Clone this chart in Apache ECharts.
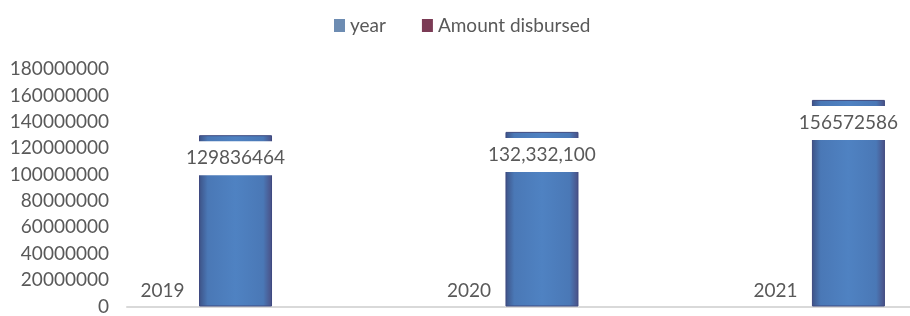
<!DOCTYPE html>
<html>
<head>
<meta charset="utf-8">
<script src="https://cdn.jsdelivr.net/npm/echarts@6/dist/echarts.min.js"></script>
<style>
  html, body { margin: 0; padding: 0; background: #fff; }
  #chart { width: 910px; height: 316px; }
</style>
</head>
<body>
<div id="chart"></div>
<script>
// data
var categories = ['2019', '2020', '2021'];
var yearValues = [2019, 2020, 2021];
var amountValues = [129836464, 132332100, 156572586];
var amountLabels = ['129836464', '132,332,100', '156572586'];
var yTicks = [0, 20000000, 40000000, 60000000, 80000000, 100000000, 120000000, 140000000, 160000000, 180000000];

(function () {
    var myChart = echarts.init(document.getElementById('chart'));
    var font = 'Lato';
    var textColor = '#595959';
    var yMin = yTicks[0];
    var yMax = yTicks[yTicks.length - 1];
    var yStep = yTicks[1] - yTicks[0];

    // categories sit at 0,1,2 on a value x axis, the view is cropped like the original
    var yearData = categories.map(function (c, i) { return [i, yearValues[i]]; });
    var amountData = categories.map(function (c, i) { return [i, amountValues[i]]; });

    var option = {
        animation: false,
        textStyle: { fontFamily: font },
        legend: {
            top: 11,
            left: 329,
            icon: 'rect',
            itemWidth: 11,
            itemHeight: 13,
            itemGap: 36,
            textStyle: { color: textColor, fontSize: 19, fontFamily: font },
            data: [
                { name: 'year', itemStyle: { color: '#6d8cb2', borderWidth: 0 } },
                { name: 'Amount disbursed', itemStyle: { color: '#7b3b55', borderWidth: 0 } }
            ]
        },
        grid: { left: 127, right: 0, top: 69, bottom: 3 },
        xAxis: {
            type: 'value',
            min: -0.235,
            max: 2.32,
            axisLine: { onZero: false, lineStyle: { color: '#d9d9d9', width: 2 } },
            axisTick: { show: false },
            axisLabel: { show: false },
            splitLine: { show: false }
        },
        yAxis: {
            type: 'value', min: yMin, max: yMax, interval: yStep,
            axisLine: { show: false },
            axisTick: { show: false },
            splitLine: { show: false },
            axisLabel: {
                color: textColor, fontSize: 19, fontFamily: font, margin: 18,
                formatter: function (v) { return String(v); }
            }
        },
        series: [
            {
                name: 'year',
                type: 'bar',
                barWidth: 73,
                barGap: '0%',
                data: yearData,
                itemStyle: { color: '#6d8cb2' },
                label: {
                    show: true,
                    position: 'top',
                    distance: 6,
                    color: textColor,
                    fontSize: 19,
                    fontFamily: font,
                    formatter: function (p) { return categories[p.dataIndex]; }
                }
            },
            {
                name: 'Amount disbursed',
                type: 'bar',
                barWidth: 73,
                barGap: '0%',
                data: amountData,
                itemStyle: {
                    borderColor: '#3e4a80',
                    borderWidth: 1,
                    color: new echarts.graphic.LinearGradient(0, 0, 1, 0, [
                        { offset: 0, color: '#3d5286' },
                        { offset: 0.12, color: '#4a78b6' },
                        { offset: 0.5, color: '#4f82c2' },
                        { offset: 0.88, color: '#4a78b6' },
                        { offset: 1, color: '#4a4f84' }
                    ])
                },
                label: {
                    show: true,
                    position: 'insideTop',
                    distance: 6,
                    color: textColor,
                    fontSize: 19,
                    fontFamily: font,
                    backgroundColor: '#fff',
                    padding: [7, 0],
                    lineHeight: 20,
                    formatter: function (p) { return amountLabels[p.dataIndex]; }
                }
            }
        ]
    };
    myChart.setOption(option);
    window.addEventListener('resize', function () {
        myChart.resize();
    });
})();
</script>
</body>
</html>
